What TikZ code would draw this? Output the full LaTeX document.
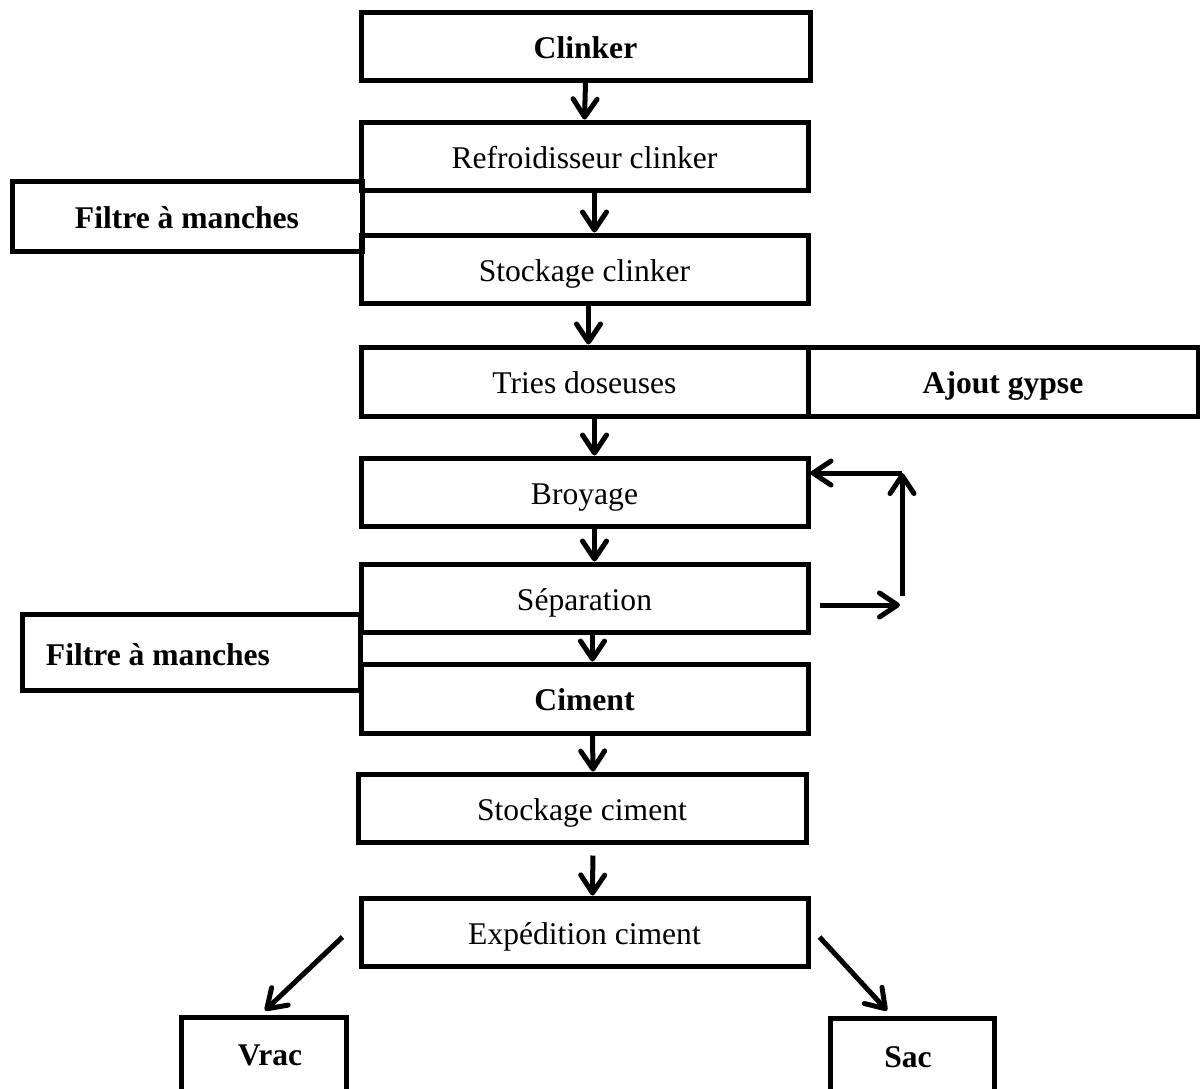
\documentclass[tikz,border=0pt]{standalone}
\usepackage{fontspec}
\setmainfont{Liberation Serif}
\usetikzlibrary{arrows.meta,calc}
\begin{document}
\begin{tikzpicture}[x=0.5pt,y=-0.5pt,
  box/.style={draw,line width=2.5pt,minimum width=223.5pt,minimum height=34pt,inner sep=0pt,text height=13pt,text depth=1pt,font=\fontsize{15.8}{19}\selectfont},
  bbox/.style={box,font=\fontsize{15.8}{19}\selectfont\bfseries},
  arr/.style={line width=2.5pt,-{Straight Barb[length=9pt,width=12pt,round]}},
  lbl/.style={font=\fontsize{15.8}{19}\selectfont\bfseries,inner sep=0pt}]
\useasboundingbox (0,0) rectangle (1200,1088);
% side boxes first (drawn under main boxes)
\node[bbox,minimum width=175pt,minimum height=35pt] (filt1) at (187,216) {Filtre à manches};
\node[box,minimum width=169pt,minimum height=38pt] (filt2) at (191,652) {};
\node[lbl] (filt2t) at (158,655) {Filtre à manches};
\node[bbox,minimum width=195pt,minimum height=34.5pt] (gypse) at (1003,381.5) {Ajout gypse};
% main column
\node[bbox,minimum width=224.5pt] (clinker) at (585.5,46) {Clinker};
\node[box] (refr) at (584.5,156) {Refroidisseur clinker};
\node[box] (stockcl) at (584.5,269) {Stockage clinker};
\node[box,minimum height=34.5pt] (tries) at (584.5,381.5) {Tries doseuses};
\node[box] (broy) at (584.5,492) {Broyage};
\node[box] (sep) at (584.5,598) {Séparation};
\node[bbox,minimum height=34.5pt] (ciment) at (584.5,698.5) {Ciment};
\node[box,minimum width=224pt] (stockci) at (582,808) {Stockage ciment};
\node[box] (exped) at (584.5,932) {Expédition ciment};
\node[bbox,minimum width=82.5pt,minimum height=38pt] (vrac) at (264,1055) {};
\node[lbl] (vract) at (270,1055) {Vrac};
\node[bbox,minimum width=82pt,minimum height=38pt] (sac) at (912,1056) {};
\node[lbl] (sact) at (908,1057) {Sac};
% vertical arrows
\draw[arr] (clinker.south) -- (refr.north);
\draw[arr] ([xshift=5pt]refr.south) -- ([xshift=5pt]stockcl.north);
\draw[arr] ([xshift=2pt]stockcl.south) -- ([xshift=2pt]tries.north);
\draw[arr] ([xshift=5pt]tries.south) -- ([xshift=5pt]broy.north);
\draw[arr] ([xshift=5pt]broy.south) -- ([xshift=5pt]sep.north);
\draw[arr] ([xshift=4pt,yshift=2pt]sep.south) -- ([xshift=4pt]ciment.north);
\draw[arr] ([xshift=4pt]ciment.south) -- ([xshift=5.5pt]stockci.north);
\draw[arr,shorten <=5.5pt] ([xshift=5.5pt]stockci.south) -- ([xshift=4pt]exped.north);
% feedback loop
\coordinate (fbA) at ($(sep.east)+(9,7)$);
\coordinate (fbB) at (900,605);
\coordinate (fbC) at (902,596);
\coordinate (fbD) at (902,473);
\draw[arr] (fbA) -- (fbB);
\draw[arr] (fbC) -- (fbD);
\draw[arr] (fbD) -- (broy.east |- fbD);
% diagonal arrows
\coordinate (dL) at ($(exped.west)+(-16,5)$);
\coordinate (dR) at ($(exped.east)+(9,5)$);
\draw[arr] (dL) -- ($(vrac.north)+(1,-4)$);
\draw[arr] (dR) -- ($(sac.north)+(-25,-5)$);
\end{tikzpicture}
\end{document}
